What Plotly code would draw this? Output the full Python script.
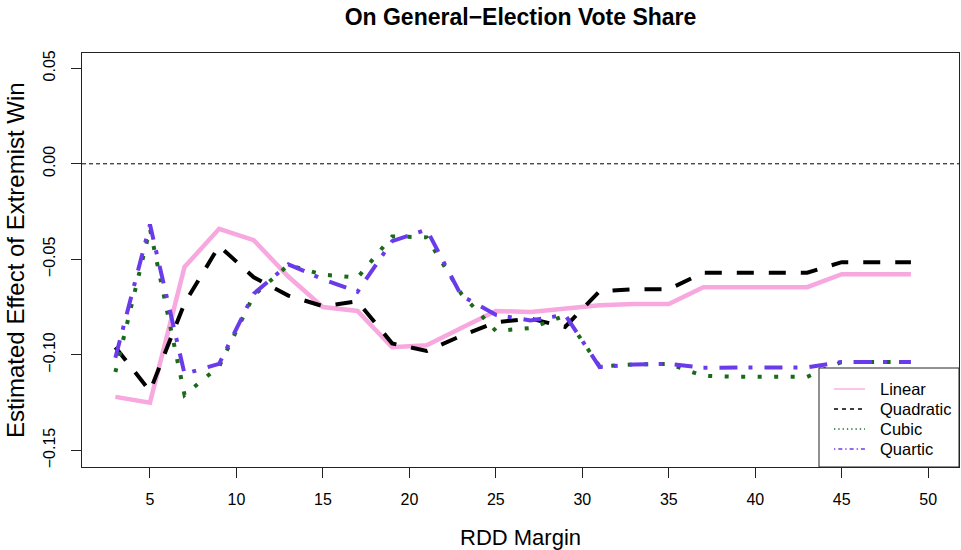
import plotly.graph_objects as go

margin = [3, 5, 7, 9, 11, 13, 15, 17, 19, 21, 23, 25, 27, 29, 31, 33, 35, 37, 39, 41, 43, 45, 47, 49]

linear = [-0.122, -0.125, -0.054, -0.034, -0.040, -0.059, -0.075, -0.077, -0.096, -0.095,
          -0.086, -0.077, -0.0776, -0.076, -0.074, -0.0734, -0.0734, -0.0646, -0.0646, -0.0646,
          -0.0646, -0.0578, -0.0578, -0.0578]
quadratic = [-0.096, -0.119, -0.073, -0.043, -0.0594, -0.069, -0.0745, -0.072, -0.094, -0.098,
             -0.090, -0.083, -0.081, -0.0854, -0.0667, -0.0656, -0.0656, -0.057, -0.057, -0.057,
             -0.057, -0.0515, -0.0515, -0.0515]
cubic = [-0.109, -0.034, -0.121, -0.106, -0.0688, -0.053, -0.058, -0.0596, -0.038, -0.0385,
         -0.068, -0.0875, -0.086, -0.0795, -0.106, -0.105, -0.1047, -0.111, -0.1115, -0.1115,
         -0.1115, -0.1037, -0.1037, -0.1037]
quartic = [-0.1015, -0.0318, -0.110, -0.1047, -0.068, -0.0526, -0.0604, -0.067, -0.0405, -0.0344,
           -0.069, -0.079, -0.082, -0.079, -0.1064, -0.105, -0.1047, -0.1068, -0.1066, -0.1066,
           -0.1066, -0.1037, -0.1037, -0.1037]

x_ticks = [5, 10, 15, 20, 25, 30, 35, 40, 45, 50]
y_ticks = [-0.15, -0.10, -0.05, 0.00, 0.05]
y_tick_labels = ["\u22120.15", "\u22120.10", "\u22120.05", "0.00", "0.05"]

series_names = ["Linear", "Quadratic", "Cubic", "Quartic"]
series_values = [linear, quadratic, cubic, quartic]
colors = ["#F7A8DF", "#000000", "#1B6A1B", "#6A3BEA"]
dashes = [None, "17px,15px", "4px,12.5px", "18px,11px,4px,12px"]
widths = [4.5, 4, 4, 4]
legend_dashes = [None, "4px,4px", "1.3px,3px", "1.3px,3px,4px,3px"]

FONT = "Liberation Sans, Arial, Helvetica, sans-serif"

fig = go.Figure()
for name, vals, col, dash, w in zip(series_names, series_values, colors, dashes, widths):
    line = dict(color=col, width=w)
    if dash:
        line["dash"] = dash
    fig.add_trace(go.Scatter(x=margin, y=vals, mode="lines", line=line,
                             name=name, showlegend=False, hoverinfo="skip"))

# zero reference line
fig.add_shape(type="line", xref="paper", x0=0, x1=1, yref="y", y0=0, y1=0,
              line=dict(color="black", width=1, dash="4px,3px"), layer="below")

# legend box (drawn manually to match R legend)
PLOT_L, PLOT_R, PLOT_T, PLOT_B = 82, 959, 53, 467
def px_x(p):
    return (p - PLOT_L) / (PLOT_R - PLOT_L)
def px_y(p):
    return (PLOT_B - p) / (PLOT_B - PLOT_T)

annotations = [
    dict(text="RDD Margin", xref="paper", yref="paper", x=0.5, y=0, yanchor="middle",
         yshift=-70, showarrow=False, font=dict(size=22, family=FONT)),
    dict(text="Estimated Effect of Extremist Win", xref="paper", yref="paper", x=0,
         y=0.5, xanchor="center", xshift=-67, textangle=-90, showarrow=False,
         font=dict(size=24, family=FONT)),
]
fig.add_shape(type="rect", xref="paper", yref="paper", x0=px_x(819), x1=1, y0=0,
              y1=px_y(368), line=dict(color="#222", width=1), fillcolor="white", layer="above")
item_y = [389, 409, 429, 449]
for name, col, ld, py in zip(series_names, colors, legend_dashes, item_y):
    line = dict(color=col, width=1.3)
    if ld:
        line["dash"] = ld
    fig.add_shape(type="line", xref="paper", yref="paper", x0=px_x(834), x1=px_x(865),
                  y0=px_y(py), y1=px_y(py), line=line, layer="above")
    annotations.append(dict(text=name, xref="paper", yref="paper", x=px_x(878), y=px_y(py),
                            xanchor="left", yanchor="middle", showarrow=False,
                            font=dict(size=16.5, family=FONT)))

fig.update_layout(
    width=961, height=550,
    margin=dict(l=PLOT_L, r=961 - PLOT_R, t=PLOT_T, b=550 - PLOT_B, autoexpand=False),
    paper_bgcolor="white", plot_bgcolor="white",
    font=dict(family=FONT, color="black", size=16),
    showlegend=False,
    title=dict(text="<b>On General\u2212Election Vote Share</b>", x=0.5, xref="paper",
               y=1 - 17 / 550, yref="container", yanchor="middle",
               font=dict(size=23, family=FONT, color="black")),
    xaxis=dict(range=[1.07, 51.78], tickvals=x_ticks, ticks="outside", ticklen=10,
               tickcolor="#222", showline=True, linecolor="#222", linewidth=1, mirror=True,
               showgrid=False, zeroline=False, tickfont=dict(size=16), automargin=False,
               ticklabelstandoff=8),
    yaxis=dict(range=[-0.1587, 0.058], tickvals=y_ticks, ticktext=y_tick_labels,
               ticks="outside", ticklen=10, tickcolor="#222", showline=True, linecolor="#222",
               linewidth=1, mirror=True, showgrid=False, zeroline=False, tickangle=-90,
               tickfont=dict(size=16), ticklabelstandoff=10, automargin=False),
    annotations=annotations,
)

fig.write_html("out.html", config={"displayModeBar": False},
               post_script="document.body.style.margin='0';document.body.style.overflow='hidden';")
